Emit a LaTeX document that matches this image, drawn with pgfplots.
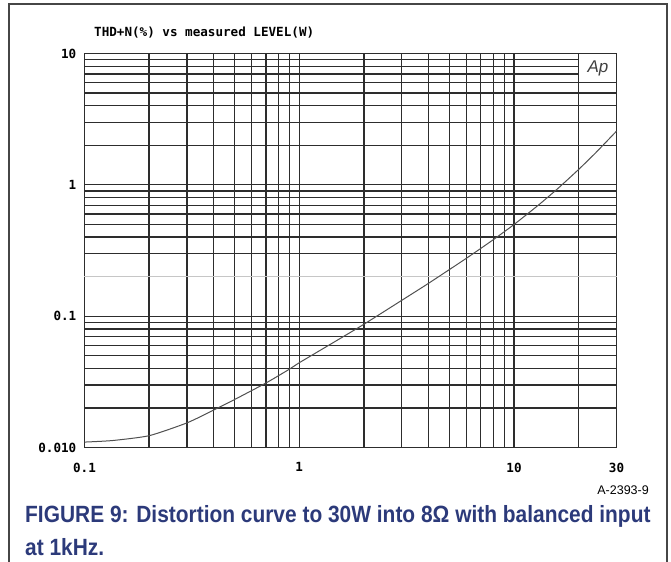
\documentclass[border=0pt]{standalone}
\usepackage{pgfplots}
\pgfplotsset{compat=1.18}
\usepackage{fontspec}
\setmainfont{Liberation Sans}
\newfontfamily\apmono{DejaVu Sans Mono}
\newfontfamily\capfont[FakeStretch=0.89]{Liberation Sans}
\definecolor{capblue}{RGB}{44,58,122}
\definecolor{gridc}{RGB}{45,45,45}
\definecolor{framec}{RGB}{70,70,70}
\definecolor{curvec}{RGB}{80,80,80}

% THD+N versus output level, 1 kHz, 8 ohm load
\pgfplotstableread{
P      thdn
0.100  0.0110
0.135  0.0113
0.200  0.0123
0.300  0.0154
0.400  0.0193
0.500  0.0232
0.700  0.0310
0.900  0.0395
1.000  0.0442
1.500  0.0655
2.000  0.0868
3.000  0.1320
4.000  0.1780
6.000  0.2760
8.000  0.3820
10.00  0.4990
13.00  0.7020
16.00  0.9380
20.00  1.3110
24.00  1.7550
30.00  2.5640
}\thdtable

\begin{document}
\begin{tikzpicture}[x=1bp,y=1bp]
\useasboundingbox (0,0) rectangle (671,-562);
% outer frame, open at the bottom
\draw[framec, line width=2bp] (9,-562) -- (9,-4) -- (667,-4) -- (667,-562);

\begin{axis}[
  at={(84.5bp,-447.5bp)}, anchor=south west,
  scale only axis, width=532bp, height=394bp,
  xmode=log, ymode=log,
  xmin=0.1, xmax=30, ymin=0.01, ymax=10,
  axis line style={gridc, line width=1.3bp},
  xtick={0.1,1,10,30}, xticklabels={0.1,1,10,30},
  ytick={0.01,0.1,1,10}, yticklabels={0.010,0.1,1,10},
  minor xtick={0.2,0.3,0.4,0.5,0.6,0.7,0.8,0.9,2,3,4,5,6,7,8,9,20},
  minor ytick={0.02,0.03,0.04,0.05,0.06,0.07,0.08,0.09,
               0.3,0.4,0.5,0.6,0.7,0.8,0.9,
               2,3,4,5,6,7,8,9},
  extra y ticks={0.2}, extra y tick labels={},
  extra y tick style={grid=major, major grid style={gray!45, line width=1.3bp}},
  grid=both,
  major grid style={gridc, line width=1.3bp},
  minor grid style={gridc, line width=1.3bp},
  major tick length=0pt, minor tick length=0pt,
  tick label style={font=\apmono\bfseries\fontsize{12.6bp}{14bp}\selectfont, inner sep=0pt},
  xticklabel style={anchor=north, yshift=-15bp},
  yticklabel style={anchor=east, xshift=-8bp},
  clip=false,
]
\addplot[curvec, line width=1bp, smooth, tension=0.35] table[x=P, y=thdn] {\thdtable};
% Audio Precision logo box
\filldraw[fill=white, draw=gridc, line width=1.3bp] (axis cs:20,6) rectangle (axis cs:30,10);
\node[font=\itshape\fontsize{17bp}{19bp}\selectfont, text=black!75] at (axis cs:24.6,7.7) {Ap};
\end{axis}

\node[anchor=base west, inner sep=0pt, font=\apmono\bfseries\fontsize{12.6bp}{14bp}\selectfont]
  at (94,-37) {THD+N(\%) vs measured LEVEL(W)};
\node[anchor=base east, inner sep=0pt, font=\fontsize{12.5bp}{14bp}\selectfont]
  at (649,-494) {A-2393-9};
\node[anchor=base west, inner sep=0pt, text=capblue, font=\capfont\bfseries\fontsize{23.5bp}{28bp}\selectfont]
  at (25,-522) {FIGURE 9: Distortion curve to 30W into 8Ω with balanced input};
\node[anchor=base west, inner sep=0pt, text=capblue, font=\capfont\bfseries\fontsize{23.5bp}{28bp}\selectfont]
  at (25,-555) {at 1kHz.};
\end{tikzpicture}
\end{document}
